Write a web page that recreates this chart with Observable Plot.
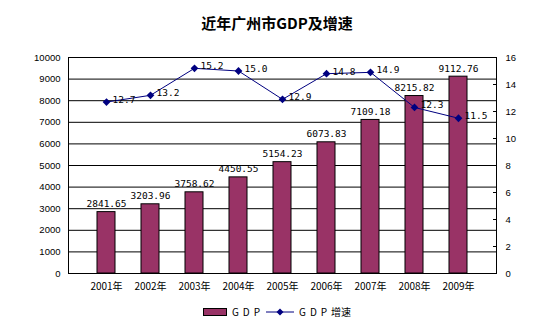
<!DOCTYPE html>
<html><head><meta charset="utf-8">
<script src="https://cdn.jsdelivr.net/npm/d3@7"></script>
<script src="https://cdn.jsdelivr.net/npm/@observablehq/plot@0.6"></script>
<style>
body{margin:0;background:#fff;}
#wrap{position:relative;width:554px;height:328px;font-family:"Liberation Sans",sans-serif;}
#title{position:absolute;left:0;top:12px;width:554px;text-align:center;font:bold 15px "Noto Sans CJK SC",sans-serif;}
.lab{position:absolute;font:11px "Noto Sans CJK SC",sans-serif;}
#chart{position:absolute;left:0;top:40px;}
#legend{position:absolute;top:304px;left:0;width:554px;display:flex;justify-content:center;align-items:center;font:10px "Noto Sans CJK SC",sans-serif;}
.sp{letter-spacing:4px;}
</style></head><body>
<div id="wrap">
<div id="title">近年广州市GDP及增速</div>
<div class="lab" style="left:10px;top:55px;">亿元</div>
<div class="lab" style="left:520px;top:56px;">%</div>
<div id="chart"></div>
<div id="legend">
<svg width="24" height="8" style="margin-right:5px"><rect x="0.5" y="0.5" width="23" height="7" fill="#993366" stroke="#000"/></svg><span class="sp">GDP</span>
<svg width="28" height="8" style="margin:0 5px 0 2px"><line x1="0" y1="4" x2="28" y2="4" stroke="#000080"/><path d="M14,0.5L17.5,4L14,7.5L10.5,4Z" fill="#000080"/></svg><span><span class="sp">GDP</span>增速</span>
</div>
</div>
<script>
const years = ["2001年","2002年","2003年","2004年","2005年","2006年","2007年","2008年","2009年"];
const gdp = [2841.65, 3203.96, 3758.62, 4450.55, 5154.23, 6073.83, 7109.18, 8215.82, 9112.76];
const growth = [12.7, 13.2, 15.2, 15.0, 12.9, 14.8, 14.9, 12.3, 11.5];
const leftTicks = d3.range(0, 10001, 1000);
const rightTicks = [0, 2, 4, 6, 8, 10, 12, 14, 16];
const k = 10000 / 16;

const data = years.map((y, i) => ({year: y, gdp: gdp[i], g: growth[i], gs: growth[i] * k}));

const numFont = {fontFamily: "DejaVu Sans Mono, monospace", fontSize: 9.5};

const chart = Plot.plot({
  width: 554, height: 260,
  marginTop: 17, marginBottom: 27, marginLeft: 68, marginRight: 58,
  style: {fontFamily: "Liberation Sans, sans-serif", fontSize: "10px", color: "#000", background: "#fff"},
  x: {domain: years, padding: 0.58, label: null},
  y: {domain: [0, 10000], label: null},
  marks: [
    Plot.ruleY(leftTicks, {stroke: "#000", strokeWidth: 1}),
    Plot.barY(data, {x: "year", y: "gdp", fill: "#993366", stroke: "#000", strokeWidth: 1}),
    Plot.frame({stroke: "#000"}),
    Plot.axisY({anchor: "left", ticks: leftTicks, tickFormat: d => String(d), tickSize: 0, tickPadding: 8, label: null, fontSize: 9.5}),
    Plot.axisY({anchor: "right", ticks: rightTicks.map(d => d * k), tickFormat: d => String(d / k), tickSize: -4, tickPadding: 13, label: null, fontSize: 9.5}),
    Plot.axisX({anchor: "bottom", tickSize: 0, tickPadding: 9, label: null, fontSize: 10, fontFamily: "Noto Sans CJK SC, sans-serif"}),
    Plot.line(data, {x: "year", y: "gs", stroke: "#000080", strokeWidth: 1}),
    Plot.dot(data, {x: "year", y: "gs", symbol: "diamond2", r: 3.5, fill: "#000080", stroke: "none"}),
    Plot.text(data, {x: "year", y: "gdp", text: d => d.gdp.toFixed(2), lineAnchor: "bottom", dy: -5, fill: "#000", ...numFont}),
    Plot.text(data, {x: "year", y: "gs", text: d => d.g.toFixed(1), textAnchor: "start", dx: 6, dy: -2, fill: "#000", ...numFont})
  ]
});
document.getElementById("chart").appendChild(chart);
</script>
</body></html>
